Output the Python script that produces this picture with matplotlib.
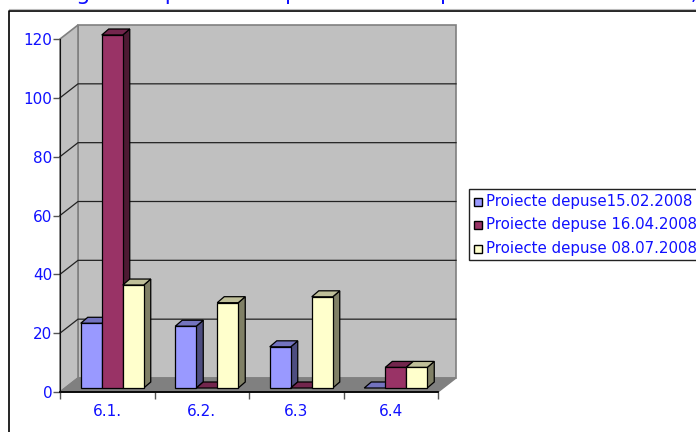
import matplotlib
matplotlib.use("Agg")
import matplotlib.pyplot as plt
from matplotlib.patches import Polygon, Rectangle

categories = ["6.1.", "6.2.", "6.3", "6.4"]
series_names = ["Proiecte depuse15.02.2008", "Proiecte depuse 16.04.2008", "Proiecte depuse 08.07.2008"]
feb = [22, 21, 14, 0]
apr = [120, 0, 0, 7]
jul = [35, 29, 31, 7]
y_ticks = [0, 20, 40, 60, 80, 100, 120]
title = "Strategia comparativa a proiectelor depuse in sesiunea 2008,"

front = ["#9999FF", "#993366", "#FFFFCC"]
side = ["#4D4D80", "#4D1A33", "#808066"]
top = ["#7373BF", "#73264D", "#BFBF99"]
wall = "#C0C0C0"
floor = "#808080"
blue = "#1010FF"

W, H = 696, 432
fig = plt.figure(figsize=(W / 100, H / 100), dpi=100)

# front plane of the fake 3d box, pixel numbers from the picture
ax = fig.add_axes([60 / W, 1 - 392 / H, 378 / W, 353 / H])
ax.set_xlim(0, 4)
ax.set_ylim(0, 120)
ax.patch.set_visible(False)

# depth of box and of the bars in data units
sx = 4 / 378
sy = 120 / 353
dx, dy = 18 * sx, 14 * sy
bx, by = 7 * sx, 6 * sy
off_x, off_y = 5 * sx, 4 * sy


def poly(pts, fc, ec="black", lw=0.9, z=1):
    ax.add_patch(Polygon(pts, closed=True, fc=fc, ec=ec, lw=lw, zorder=z, clip_on=False))


# walls and floor
poly([(dx, dy), (4 + dx, dy), (4 + dx, 120 + dy), (dx, 120 + dy)], wall, ec="#808080", lw=1.2)
poly([(0, 0), (dx, dy), (dx, 120 + dy), (0, 120)], wall, ec="#808080", lw=1.2)
poly([(0, 0), (4, 0), (4 + dx, dy), (dx, dy)], floor, ec="#808080", lw=1.0)
for t in y_ticks[1:-1]:
    ax.plot([0, dx, 4 + dx], [t, t + dy, t + dy], color="#222222", lw=0.9, zorder=2, clip_on=False)

# bars, left to right so each one covers the side of the previous
bar_w = 21 * sx
series = [feb, apr, jul]
for i in range(len(categories)):
    start = i + (1 - 3 * bar_w) / 2 + off_x
    for j, vals in enumerate(series):
        x0 = start + j * bar_w
        x1 = x0 + bar_w
        y0 = off_y
        y1 = off_y + vals[i]
        z = 3 + i * 3 + j
        poly([(x1, y0), (x1 + bx, y0 + by), (x1 + bx, y1 + by), (x1, y1)], side[j], z=z)
        poly([(x0, y1), (x1, y1), (x1 + bx, y1 + by), (x0 + bx, y1 + by)], top[j], z=z)
        if vals[i] > 0:
            poly([(x0, y0), (x1, y0), (x1, y1), (x0, y1)], front[j], z=z)

# axes
for s in ["top", "right"]:
    ax.spines[s].set_visible(False)
ax.spines["left"].set_zorder(30)
ax.spines["bottom"].set_linewidth(1.3)
ax.spines["left"].set_color("#111111")
ax.set_yticks(y_ticks)
ax.set_xticks(range(5))
ax.set_xticklabels([])
ax.set_xticks([i + 0.5 for i in range(4)], minor=True)
ax.set_xticklabels(categories, minor=True, color=blue, fontsize=11)
ax.tick_params(axis="x", which="major", length=5, width=1, color="#555555", direction="out")
ax.tick_params(axis="x", which="minor", length=0, pad=9)
ax.tick_params(axis="y", length=5, width=1, color="#555555", labelcolor=blue, labelsize=11, pad=0.5)

# legend box
leg = fig.add_axes([0, 0, 1, 1])
leg.set_xlim(0, W)
leg.set_ylim(H, 0)
leg.axis("off")
leg.patch.set_visible(False)
leg.add_patch(Rectangle((468.5, 188.5), 240, 71.5, fc="white", ec="#222222", lw=1.0, clip_on=False))
for j, name in enumerate(series_names):
    yc = 201.5 + j * 23.5
    leg.add_patch(Rectangle((474, yc - 4), 8, 8, fc=front[j], ec="black", lw=1.0))
    leg.text(486, yc, name, color=blue, fontsize=10.8, va="center", ha="left")

# chart frame and the heading, which the reference cuts off at the top edge
leg.plot([8.5, 8.5, W], [H, 10.5, 10.5], color="black", lw=1.2)
leg.plot([8.5, W], [9.3, 9.3], color="#BBBBBB", lw=0.8)
leg.text(8, 0, title, color=blue, fontsize=16, va="baseline", ha="left")

fig.savefig("out.png", dpi=100)
